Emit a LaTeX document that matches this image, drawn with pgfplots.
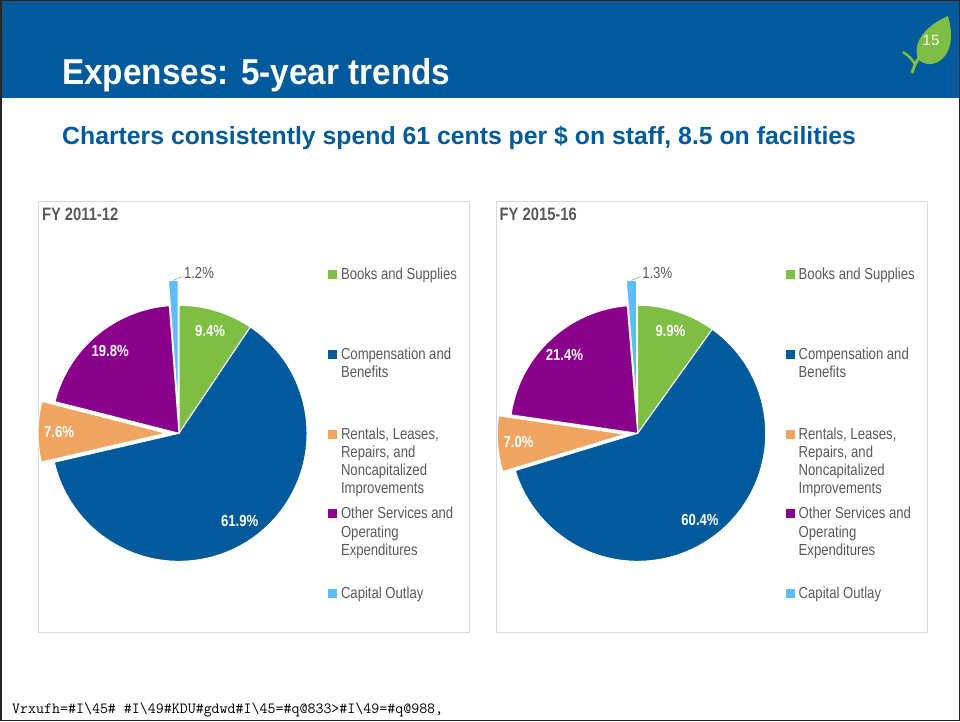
\documentclass[border=0pt]{standalone}
\usepackage{pgfplots}
\pgfplotsset{compat=1.18}
\usepackage{pgfplotstable}
\usepackage{fontspec}
\setmainfont{Liberation Sans}
\newfontfamily\narrowfont{Liberation Sans}[FakeStretch=0.82]
\newfontfamily\headfont{Liberation Sans}[FakeStretch=0.925]

\definecolor{cgreen}{RGB}{126,190,66}
\definecolor{cblue}{RGB}{0,90,156}
\definecolor{corange}{RGB}{240,164,96}
\definecolor{cpurple}{RGB}{139,0,139}
\definecolor{clight}{RGB}{93,188,252}
\definecolor{cgray}{RGB}{89,89,89}
\definecolor{cframe}{RGB}{217,217,217}
\definecolor{cleaf}{RGB}{125,190,70}

% shares in percent, explode offset in px, slice colour
\pgfplotstableread{
value explode color
9.4 0 cgreen
61.9 0 cblue
7.6 13 corange
19.8 0 cpurple
1.2 25 clight
}\fyA

\pgfplotstableread{
value explode color
9.9 0 cgreen
60.4 0 cblue
7.0 12.5 corange
21.4 0 cpurple
1.3 25 clight
}\fyB

\newcommand\pieR{128}
\newcommand\lblfont{\narrowfont\bfseries\fontsize{16}{18}\selectfont}

% slices go clockwise from 12 o'clock
\newcommand\drawpie[1]{%
  \gdef\pietot{0}%
  \pgfplotstableforeachcolumnelement{value}\of#1\as\pv{%
    \pgfmathsetmacro\tmp{\pietot+\pv}\xdef\pietot{\tmp}}%
  \gdef\pieacc{0}%
  \pgfplotstableforeachcolumnelement{value}\of#1\as\pv{%
    \edef\prow{\pgfplotstablerow}%
    \pgfplotstablegetelem{\prow}{explode}\of#1\let\pex\pgfplotsretval
    \pgfplotstablegetelem{\prow}{color}\of#1\let\pcol\pgfplotsretval
    \pgfmathsetmacro\aS{90-\pieacc/\pietot*360}%
    \pgfmathsetmacro\aE{90-(\pieacc+\pv)/\pietot*360}%
    \pgfmathsetmacro\aM{(\aS+\aE)/2}%
    \fill[\pcol, draw=white, line width=1pt] ([shift={(\aM:\pex pt)}]axis cs:0,0)
      -- ++(\aS:\pieR pt) arc[start angle=\aS, end angle=\aE, radius=\pieR pt] -- cycle;
    \pgfmathparse{\pv<3}%
    \ifdim\pgfmathresult pt>0.5pt
      \draw[cgray!60, line width=0.6pt] ([shift={(\aM:\pex pt+\pieR pt)}]axis cs:0,0)
        -- ++(8pt,3.5pt) -- ++(2pt,0pt)
        node[anchor=west, inner sep=0.5pt, yshift=4pt, text=cgray,
             font=\narrowfont\fontsize{16}{18}\selectfont] {\pv\%};
    \else
      \node[text=white, inner sep=0pt, font=\lblfont]
        at ([shift={(\aM:\pex pt+107pt)}]axis cs:0,0) {\pv\%};
    \fi
    \pgfmathsetmacro\tmp{\pieacc+\pv}\xdef\pieacc{\tmp}%
  }%
}

\newcommand\entry[1]{\parbox[t][79.85pt][t]{140pt}{\raggedright\strut #1}}

\pgfplotsset{
  piepanel/.style={
    anchor=south west, scale only axis, width=431pt, height=431pt,
    ymin=-199.4, ymax=231.6,
    xtick=\empty, ytick=\empty, clip=false,
    axis line style={cframe, line width=1pt},
    title style={at={(0,1)}, anchor=north west, inner sep=0pt,
      xshift=3.5pt, yshift=-12.5pt, text=cgray,
      font=\narrowfont\bfseries\fontsize{18}{20}\selectfont},
    legend image code/.code={\fill[##1, draw=none] (0pt,0.5pt) rectangle (8.5pt,9.5pt);},
    legend style={draw=none, fill=none, inner sep=0pt, outer sep=0pt,
      row sep=0pt, column sep=4.2pt, anchor=north west,
      cells={anchor=base west}, nodes={inner sep=0pt, text depth={}},
      text=cgray, font=\narrowfont\fontsize{16}{18.3}\selectfont},
  },
}

\newcommand\pielegend{%
  \addlegendimage{fill=cgreen, draw=none}\addlegendentry{\entry{Books and Supplies}}
  \addlegendimage{fill=cblue, draw=none}\addlegendentry{\entry{Compensation and\\Benefits}}
  \addlegendimage{fill=corange, draw=none}\addlegendentry{\entry{Rentals, Leases,\\Repairs, and\\Noncapitalized\\Improvements}}
  \addlegendimage{fill=cpurple, draw=none}\addlegendentry{\entry{Other Services and\\Operating\\Expenditures}}
  \addlegendimage{fill=clight, draw=none}\addlegendentry{\entry{Capital Outlay}}
}

\begin{document}
\begin{tikzpicture}[x=1pt, y=1pt]
\path[use as bounding box] (0,0) rectangle (960,721);

% header band
\fill[cblue] (0,623) rectangle (960,721);
\node[anchor=base west, inner sep=0pt, text=white,
      font=\headfont\bfseries\fontsize{36}{40}\selectfont] at (62,636) {Expenses: 5-year trends};

% leaf with slide number
\fill[cleaf] (918,662) .. controls (912,678) and (925,695) .. (948,705)
  .. controls (953,688) and (953,668) .. (938,659)
  .. controls (930,655) and (922,657) .. (918,662) -- cycle;
\draw[cleaf, line width=3pt] (919,663) .. controls (915,657) .. (912,648);
\draw[cleaf, line width=2.5pt] (915,657) .. controls (910,664) .. (903,669);
\node[text=white, inner sep=0pt, font=\fontsize{15}{15}\selectfont] at (931,680.5) {15};

\node[anchor=base west, inner sep=0pt, text=cblue,
      font=\bfseries\fontsize{24.8}{28}\selectfont] at (62,576.7)
  {Charters consistently spend 61 cents per \$ on staff, 8.5 on facilities};

\begin{axis}[piepanel, at={(38.3,88.3)},
  xmin=-140.7, xmax=290.3, title={FY 2011-12},
  legend style={at={(axis cs:149.3,166.8)}}]
\pgfplotsextra{\drawpie{\fyA}}
\pielegend
\end{axis}

\begin{axis}[piepanel, at={(496,88.3)}, width=431.7pt,
  xmin=-141.7, xmax=290, title={FY 2015-16},
  legend style={at={(axis cs:148.3,166.8)}}]
\pgfplotsextra{\drawpie{\fyB}}
\pielegend
\end{axis}

\node[anchor=base west, inner sep=0pt,
      font=\ttfamily\fontsize{15.5}{18}\selectfont] at (12,8)
  {Vrxufh=\#I\textbackslash45\#\ \#I\textbackslash49\#KDU\#gdwd\#I\textbackslash45=\#q@833>\#I\textbackslash49=\#q@988,};

\draw[black!85, line width=1.5pt] (0.75,0.75) rectangle (959.25,720.25);
\end{tikzpicture}
\end{document}
